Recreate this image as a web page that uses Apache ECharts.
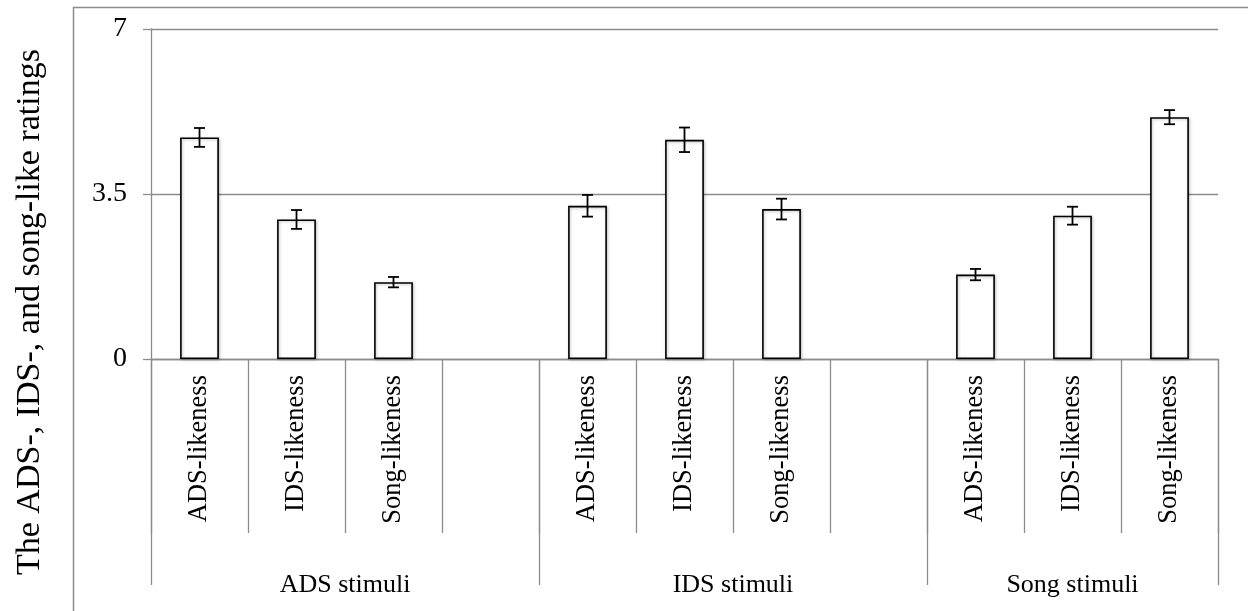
<!DOCTYPE html>
<html>
<head>
<meta charset="utf-8">
<script src="https://cdn.jsdelivr.net/npm/echarts@6/dist/echarts.min.js"></script>
<style>html,body{margin:0;padding:0;background:#fff;}#chart{width:1248px;height:611px;}</style>
</head>
<body>
<div id="chart"></div>
<script>
// ---- data ----
const ratingTypes = ['ADS-likeness', 'IDS-likeness', 'Song-likeness'];
const stimulusGroups = ['ADS stimuli', 'IDS stimuli', 'Song stimuli'];
const adsStimuliMeans = [4.70, 2.96, 1.63];
const adsStimuliErr = [0.20, 0.20, 0.11];
const idsStimuliMeans = [3.25, 4.65, 3.18];
const idsStimuliErr = [0.23, 0.26, 0.22];
const songStimuliMeans = [1.79, 3.04, 5.13];
const songStimuliErr = [0.12, 0.19, 0.15];
const yTicks = [0, 3.5, 7];
const yTitle = 'The ADS-, IDS-, and song-like ratings';

// ---- build category table (blank slot between groups) ----
const groupMeans = [adsStimuliMeans, idsStimuliMeans, songStimuliMeans];
const groupErrs = [adsStimuliErr, idsStimuliErr, songStimuliErr];
const xCats = [], barVals = [], errData = [];
const groupStart = [], groupCenter = [];
groupMeans.forEach((m, g) => {
  groupStart.push(xCats.length);
  const size = ratingTypes.length + (g < groupMeans.length - 1 ? 1 : 0);
  groupCenter.push(xCats.length + size / 2);
  ratingTypes.forEach((r, i) => {
    errData.push([xCats.length, m[i], groupErrs[g][i]]);
    xCats.push(r);
    barVals.push(m[i]);
  });
  if (g < groupMeans.length - 1) { xCats.push(''); barVals.push('-'); }
});
groupStart.push(xCats.length);

const gray = '#8c8c8c';
const serif = 'Liberation Serif';
const chart = echarts.init(document.getElementById('chart'), null, {renderer: 'canvas'});
chart.setOption({
  animation: false,
  backgroundColor: '#fff',
  grid: {left: 151, right: 30, top: 29, bottom: 252, containLabel: false},
  xAxis: [{
    type: 'category',
    data: xCats,
    position: 'bottom',
    axisLine: {show: true, lineStyle: {color: gray, width: 1.3}},
    axisTick: {show: true, length: 174, interval: 0, lineStyle: {color: gray, width: 1.3}},
    axisLabel: {interval: 0, rotate: 90, margin: 16, color: '#000',
      fontFamily: serif, fontSize: 26.5},
    splitLine: {show: false}
  }, {
    type: 'value',
    min: 0, max: xCats.length,
    position: 'bottom',
    offset: 0,
    axisLine: {show: false},
    axisTick: {show: true, length: 226, customValues: groupStart, lineStyle: {color: gray, width: 1.3}},
    axisLabel: {show: true, customValues: groupCenter, margin: 213, color: '#000',
      fontFamily: serif, fontSize: 26,
      formatter: function (v) { const i = groupCenter.indexOf(v); return i >= 0 ? stimulusGroups[i] : ''; }},
    splitLine: {show: false}
  }],
  yAxis: {
    type: 'value', min: yTicks[0], max: yTicks[yTicks.length - 1], interval: yTicks[1] - yTicks[0],
    axisLine: {show: true, lineStyle: {color: gray, width: 1.3}},
    axisTick: {show: true, length: 8, lineStyle: {color: gray, width: 1.3}},
    axisLabel: {margin: 24, color: '#000', fontFamily: serif, fontSize: 28},
    splitLine: {show: true, lineStyle: {color: gray, width: 1.3}}
  },
  graphic: [
    {type: 'rect', shape: {x: 73.5, y: 7.5, width: 1300, height: 700}, style: {fill: null, stroke: gray, lineWidth: 1.5}, silent: true, z: -1},
    {type: 'text', x: 30, y: 312, rotation: Math.PI / 2,
      style: {text: yTitle, fill: '#000', font: '34px "Liberation Serif"', align: 'center', verticalAlign: 'middle'}}
  ],
  series: [{
    type: 'bar',
    data: barVals,
    barWidth: '40%',
    itemStyle: {color: '#fff', borderColor: '#000', borderWidth: 1.6,
      shadowColor: 'rgba(0,0,0,0.25)', shadowBlur: 3, shadowOffsetX: 1, shadowOffsetY: 1}
  }, {
    type: 'custom',
    data: errData,
    z: 5,
    renderItem: function (params, api) {
      const x = api.value(0), m = api.value(1), e = api.value(2);
      const top = api.coord([x, m + e]);
      const bot = api.coord([x, m - e]);
      const hw = 5.5;
      const st = {stroke: '#000', lineWidth: 1.8};
      return {type: 'group', children: [
        {type: 'line', shape: {x1: top[0], y1: top[1], x2: bot[0], y2: bot[1]}, style: st},
        {type: 'line', shape: {x1: top[0] - hw, y1: top[1], x2: top[0] + hw, y2: top[1]}, style: st},
        {type: 'line', shape: {x1: bot[0] - hw, y1: bot[1], x2: bot[0] + hw, y2: bot[1]}, style: st}
      ]};
    }
  }]
});
</script>
</body>
</html>
